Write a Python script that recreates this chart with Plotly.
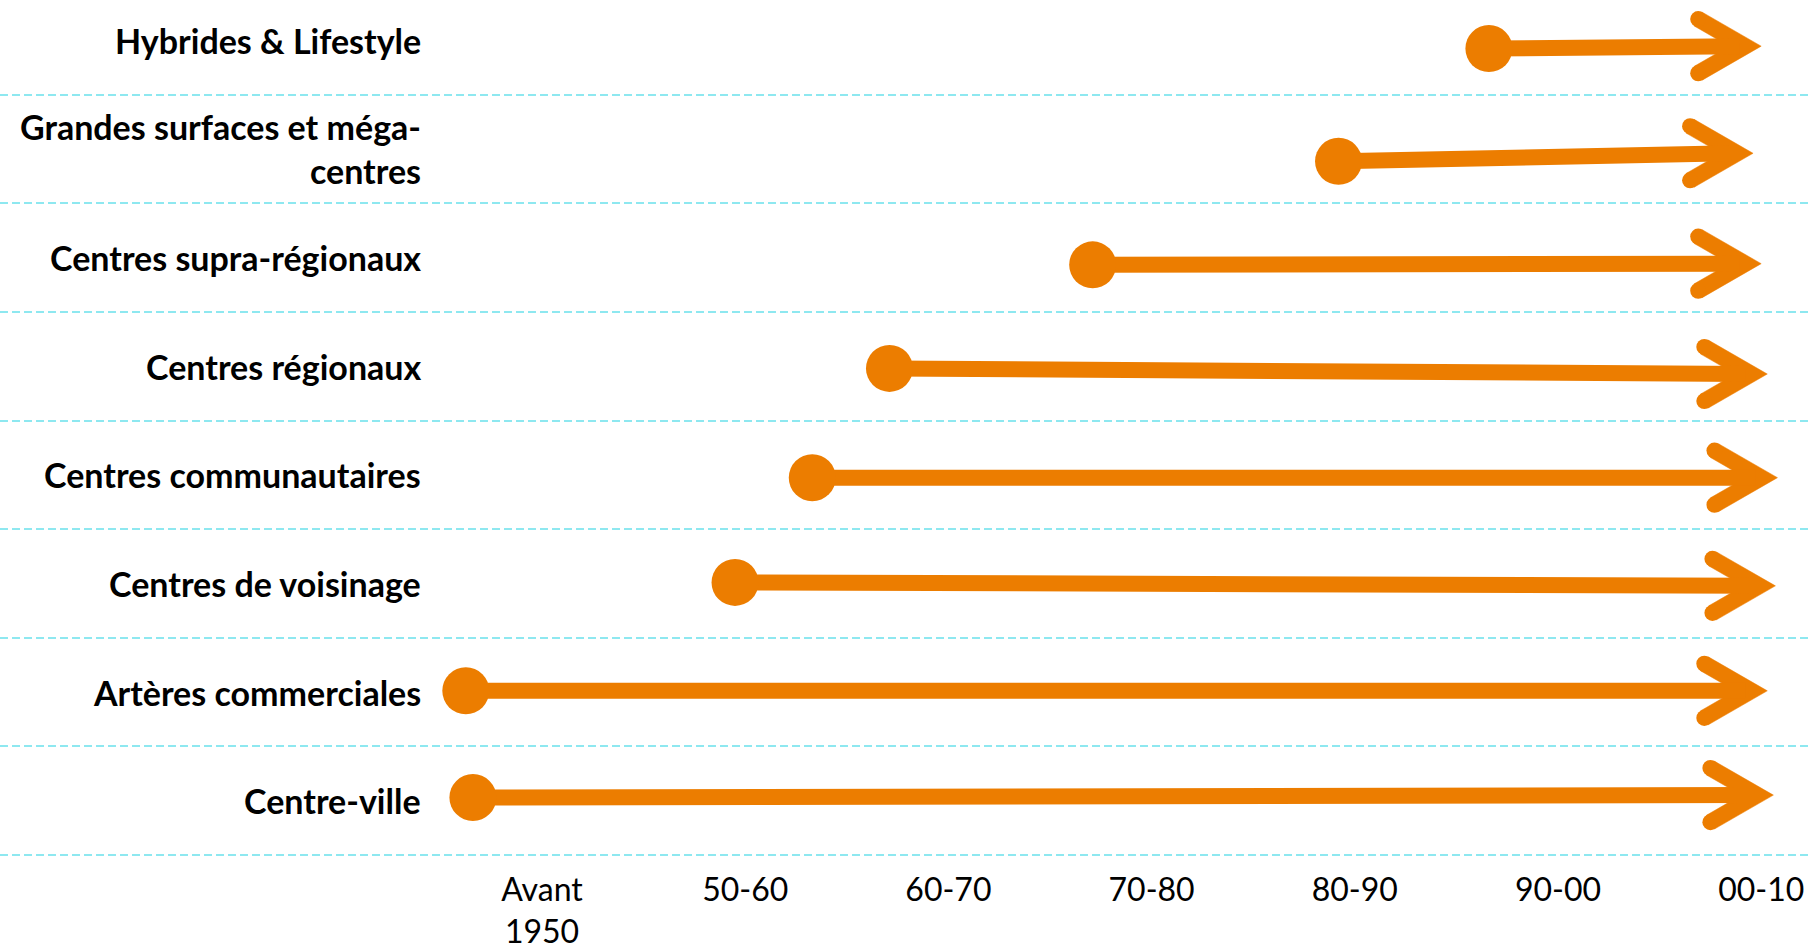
import math
import plotly.graph_objects as go

# Shopping-centre formats, listed bottom to top
formats = [
    "Centre-ville",
    "Artères commerciales",
    "Centres de voisinage",
    "Centres communautaires",
    "Centres régionaux",
    "Centres supra-régionaux",
    "Grandes surfaces et méga-<br>centres",
    "Hybrides & Lifestyle",
]
# Period in which each format appears (0 = "Avant 1950", 1 = "50-60", ...)
start_period = [-0.34, -0.375, 0.95, 1.33, 1.71, 2.71, 3.92, 4.66]
# Arrows run on to the last period
end_period = [6.06, 6.03, 6.07, 6.08, 6.03, 6.00, 5.96, 6.00]

periods = ["Avant<br>1950", "50-60", "60-70", "70-80", "80-90", "90-00", "00-10"]

# Slight hand-drawn drift of each arrow (row units) at its dot and at its tip
dot_drift = [0.030, 0.012, 0.010, -0.026, -0.020, -0.067, -0.114, -0.076]
tip_drift = [0.052, 0.012, -0.022, -0.026, -0.072, -0.056, -0.040, -0.054]

# Layout geometry
W, H = 1808, 950
MB = 80
plot_h = H - MB
x_range = [-542 / 203.2, (W - 542) / 203.2]
y_range = [-0.619, 7.371]
px_x = W / (x_range[1] - x_range[0])
px_y = plot_h / (y_range[1] - y_range[0])

ORANGE = "#EC7D00"

# Chevron head geometry in pixels, relative to the tip
HALF_W = 8.0                      # half thickness of each arm
ALPHA = math.radians(30)          # arm angle to the shaft
ARM_BACK = 63                     # horizontal reach of arm-end centres behind the tip
vx = -HALF_W / math.sin(ALPHA)    # centre-line vertex
arm_len = (ARM_BACK + vx) / math.cos(ALPHA)
ex, ey = vx - arm_len * math.cos(ALPHA), arm_len * math.sin(ALPHA)
nx_, ny_ = math.sin(ALPHA), math.cos(ALPHA)
head_px = [
    (0.0, 0.0),
    (ex + HALF_W * nx_, ey + HALF_W * ny_),
    (ex - HALF_W * nx_, ey - HALF_W * ny_),
    (vx - HALF_W / math.sin(ALPHA), 0.0),
    (ex - HALF_W * nx_, -(ey - HALF_W * ny_)),
    (ex + HALF_W * nx_, -(ey + HALF_W * ny_)),
    (0.0, 0.0),
]

fig = go.Figure()

shaft_x, shaft_y = [], []
cap_x, cap_y = [], []
dot_x, dot_y = [], []
for i in range(len(formats)):
    y0 = i + dot_drift[i]
    y1 = i + tip_drift[i]
    tip = end_period[i]
    shaft_x += [start_period[i], tip + (vx - 6) / px_x, None]
    shaft_y += [y0, y1, None]
    cap_x += [tip + ex / px_x, tip + ex / px_x]
    cap_y += [y1 + ey / px_y, y1 - ey / px_y]
    dot_x.append(start_period[i])
    dot_y.append(y0)
    fig.add_trace(go.Scatter(
        x=[tip + px / px_x for px, _ in head_px],
        y=[y1 + py / px_y for _, py in head_px],
        mode="lines", fill="toself", fillcolor=ORANGE,
        line=dict(color=ORANGE, width=0.5), hoverinfo="skip"))

fig.add_trace(go.Scatter(x=shaft_x, y=shaft_y, mode="lines",
                         line=dict(color=ORANGE, width=16), hoverinfo="skip"))
fig.add_trace(go.Scatter(x=cap_x, y=cap_y, mode="markers",
                         marker=dict(color=ORANGE, size=2 * HALF_W, line=dict(width=0)),
                         hoverinfo="skip"))
fig.add_trace(go.Scatter(x=dot_x, y=dot_y, mode="markers",
                         marker=dict(color=ORANGE, size=47, line=dict(width=0)),
                         hoverinfo="skip"))

for i, name in enumerate(formats):
    fig.add_annotation(x=423 / W, xref="paper", y=i, yref="y", text=f"<b>{name}</b>",
                       showarrow=False, xanchor="right", yanchor="middle", align="right",
                       font=dict(family="Lato", size=34, color="#000000"))

fig.update_layout(
    width=W, height=H,
    margin=dict(l=0, r=0, t=0, b=MB),
    paper_bgcolor="white", plot_bgcolor="white",
    showlegend=False,
    font=dict(family="Lato", color="#000000"),
    xaxis=dict(range=x_range, tickmode="array", tickvals=list(range(len(periods))),
               ticktext=periods, showgrid=False, zeroline=False, showline=False,
               ticks="", tickfont=dict(size=32, color="#000000"), fixedrange=True),
    yaxis=dict(range=y_range, tickmode="array",
               tickvals=[k - 0.5 for k in range(len(formats))],
               showticklabels=False, showgrid=True, gridcolor="#8EE8F0", gridwidth=2,
               griddash="8px,4px", zeroline=False, showline=False, ticks="",
               fixedrange=True),
)

fig.write_html("out.html")
